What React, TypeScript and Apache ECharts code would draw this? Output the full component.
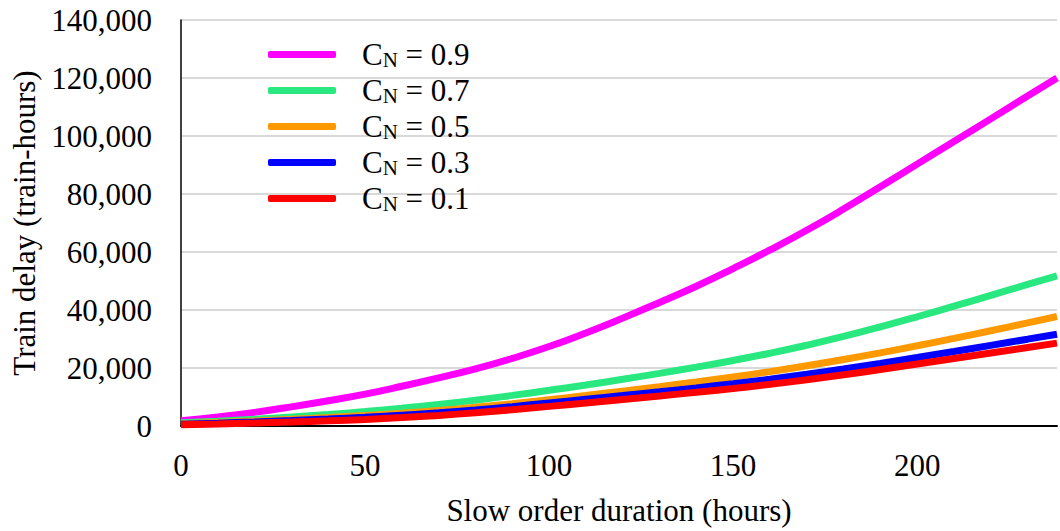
import React, { useEffect, useRef } from "react";
import * as echarts from "echarts";

const hours = [0, 10, 20, 30, 40, 50, 60, 70, 80, 90, 100, 110, 120, 130, 140, 150, 160, 170, 180, 190, 200, 210, 220, 230, 238];
const cn09 = [1800, 3100, 4700, 6600, 8700, 11000, 13700, 16600, 19700, 23300, 27400, 32100, 37200, 42600, 48200, 54300, 60700, 67500, 74800, 82500, 90300, 98100, 105900, 113800, 120000];
const cn07 = [1100, 1680, 2330, 3080, 3960, 4970, 6120, 7420, 8900, 10550, 12300, 14150, 16100, 18150, 20300, 22600, 25100, 27850, 30870, 34170, 37670, 41320, 45050, 48800, 51800];
const cn05 = [800, 1250, 1750, 2300, 2920, 3620, 4420, 5340, 6440, 7690, 9070, 10520, 12020, 13570, 15190, 16910, 18760, 20760, 22910, 25230, 27680, 30230, 32860, 35560, 37760];
const cn03 = [600, 980, 1400, 1870, 2400, 3000, 3680, 4530, 5530, 6680, 7930, 9210, 10490, 11790, 13140, 14590, 16140, 17820, 19640, 21590, 23620, 25700, 27810, 29940, 31660];
const cn01 = [400, 680, 1000, 1360, 1780, 2280, 2900, 3660, 4580, 5630, 6770, 7950, 9150, 10370, 11630, 12950, 14370, 15950, 17670, 19490, 21370, 23270, 25170, 27070, 28590];

const seriesNames = ["0.9", "0.7", "0.5", "0.3", "0.1"];
const seriesValues = [cn09, cn07, cn05, cn03, cn01];
const seriesColors = ["#FF00FF", "#2AE880", "#FF9900", "#0000FF", "#FF0000"];

const xTicks = [0, 50, 100, 150, 200];

const FONT = "'Liberation Serif', 'Times New Roman', serif";

export default function App() {
  const ref = useRef<HTMLDivElement>(null);
  useEffect(() => {
    if (!ref.current) return;
    const chart = echarts.init(ref.current, undefined, { renderer: "svg" });
    chart.setOption({
      animation: false,
      backgroundColor: "#ffffff",
      textStyle: { fontFamily: FONT, color: "#000" },
      grid: { left: 181, right: 0, top: 20, bottom: 98, containLabel: false },
      legend: {
        orient: "vertical",
        left: 268,
        top: 39,
        padding: 0,
        itemWidth: 68,
        itemHeight: 7,
        itemGap: 4.5,
        icon: "roundRect",
        data: seriesNames,
        formatter: (name: string) => `{a|C}{b|N}{a| = ${name}}`,
        textStyle: {
          fontFamily: FONT,
          color: "#000",
          padding: [0, 0, 0, 21],
          rich: {
            a: { fontFamily: FONT, fontSize: 31, lineHeight: 32, color: "#000" },
            b: { fontFamily: FONT, fontSize: 21, lineHeight: 16, verticalAlign: "bottom", color: "#000" },
          },
        },
      },
      xAxis: {
        type: "value",
        min: 0,
        max: 238,
        interval: 50,
        name: "Slow order duration (hours)",
        nameLocation: "middle",
        nameGap: 69,
        nameTextStyle: { fontFamily: FONT, fontSize: 31, color: "#000" },
        axisLine: { show: true, lineStyle: { color: "#000", width: 2 } },
        axisTick: { show: false },
        splitLine: { show: false },
        axisLabel: {
          margin: 24,
          fontFamily: FONT,
          fontSize: 31,
          color: "#000",
          formatter: (v: number) => (xTicks.includes(v) ? String(v) : ""),
        },
      },
      yAxis: {
        type: "value",
        min: 0,
        max: 140000,
        interval: 20000,
        name: "Train delay (train-hours)",
        nameLocation: "middle",
        nameGap: 139,
        nameTextStyle: { fontFamily: FONT, fontSize: 31, color: "#000" },
        axisLine: { show: true, lineStyle: { color: "#000", width: 1.5 } },
        axisTick: { show: false },
        splitLine: { show: true, lineStyle: { color: "#d9d9d9", width: 2 } },
        axisLabel: {
          margin: 29,
          fontFamily: FONT,
          fontSize: 31,
          color: "#000",
          formatter: (v: number) => v.toLocaleString("en-US"),
        },
      },
      series: seriesNames.map((name, i) => ({
        name,
        type: "line",
        smooth: 0.5,
        symbol: "none",
        color: seriesColors[i],
        lineStyle: { color: seriesColors[i], width: 7 },
        data: hours.map((h, j) => [h, seriesValues[i][j]]),
      })),
    });
    return () => chart.dispose();
  }, []);
  return <div ref={ref} style={{ position: "absolute", left: 0, top: 0, width: 1060, height: 531 }} />;
}
